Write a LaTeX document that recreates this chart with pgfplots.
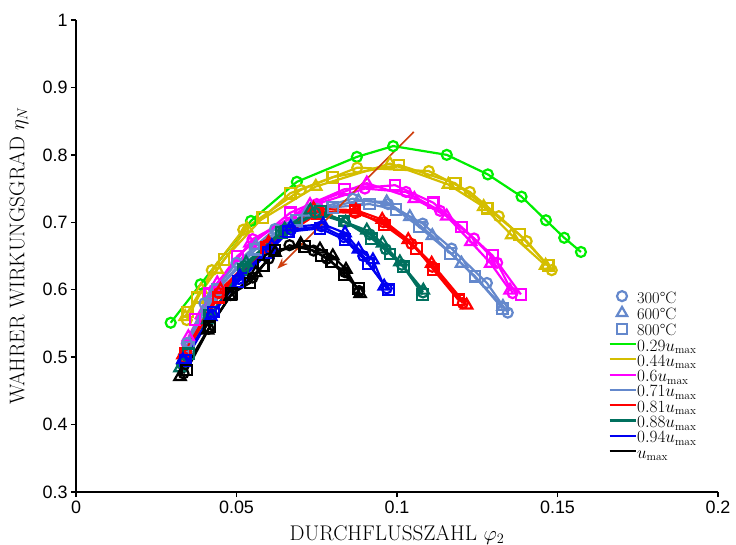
\documentclass[border=0pt]{standalone}
\usepackage{pgfplots}
\pgfplotsset{compat=1.18}
\usepackage{fontspec}
\newfontfamily\arialf{Liberation Sans}
\usetikzlibrary{arrows.meta}
\definecolor{cgreen}{RGB}{0,238,0}
\definecolor{cyellow}{RGB}{212,190,0}
\definecolor{cmag}{RGB}{255,0,255}
\definecolor{csteel}{RGB}{100,136,204}
\definecolor{cred}{RGB}{255,0,0}
\definecolor{cteal}{RGB}{0,112,94}
\definecolor{cblue}{RGB}{0,0,240}
\definecolor{carrow}{RGB}{206,62,14}
\pgfplotsset{
  ser/.style={line width=2.2bp, forget plot, mark options={fill=white, solid}},
  C/.style={ser, mark=o, mark size=5bp},
  T/.style={ser, mark=triangle, mark size=6.5bp},
  S/.style={ser, mark=square, mark size=5.3bp},
  mleg/.style={legend image code/.code={\draw[##1] plot coordinates {(12.5bp,3bp)};}},
  lleg/.style={legend image code/.code={\draw[##1] (0bp,3bp) -- (26bp,3bp);}},
}
\begin{document}
\begin{tikzpicture}
\path[use as bounding box] (-76bp,-53bp) rectangle (660bp,492bp);
\begin{axis}[
  at={(0,0)}, anchor=south west,
  scale only axis, width=642bp, height=472bp,
  xmin=0, xmax=0.2, ymin=0.3, ymax=1,
  xtick={0,0.05,0.1,0.15,0.2},
  ytick={0.3,0.4,0.5,0.6,0.7,0.8,0.9,1},
  scaled x ticks=false, scaled y ticks=false,
  /pgf/number format/.cd, fixed, precision=2, assume math mode=true, /pgfplots/.cd,
  axis x line*=bottom, axis y line*=left,
  axis line style={line width=1.6bp},
  tick style={line width=1.4bp, black},
  tick align=outside, major tick length=5bp,
  ticklabel style={font=\fontsize{18}{20}\selectfont\arialf},
  xlabel={DURCHFLUSSZAHL $\varphi_2$},
  ylabel={WAHRER WIRKUNGSGRAD $\eta_N$},
  label style={font=\fontsize{21.3}{25}\selectfont},
  xlabel style={at={(axis description cs:0.5,-0.091)}, anchor=center},
  ylabel style={at={(axis description cs:-0.089,0.5)}, anchor=center},
  legend style={draw=none, fill=none, at={(rel axis cs:0.829,0.426)}, anchor=north west,
    font=\fontsize{16.5}{18}\selectfont, row sep=0.3bp, inner sep=0pt,
    nodes={inner sep=0.5bp, text height=11bp, text depth=3bp, font=\fontsize{16.5}{18}\selectfont}},
  legend cell align=left,
  clip=false,
]
% green 0.29 umax (300C)
\addplot[C, cgreen] coordinates {(0.0295,0.551) (0.0388,0.608) (0.0545,0.702) (0.0688,0.760) (0.0875,0.797) (0.0988,0.813) (0.1155,0.800) (0.1283,0.771) (0.1388,0.738) (0.1464,0.703) (0.1521,0.677) (0.1573,0.656)};
% yellow 0.44 umax
\addplot[C, cyellow] coordinates {(0.0345,0.555) (0.0423,0.629) (0.0521,0.689) (0.0700,0.748) (0.0876,0.781) (0.1099,0.776) (0.1227,0.745) (0.1317,0.709) (0.1404,0.672) (0.1482,0.629)};
\addplot[T, cyellow] coordinates {(0.0340,0.560) (0.0390,0.600) (0.0440,0.630) (0.0532,0.691) (0.0747,0.753) (0.0978,0.787) (0.1160,0.756) (0.1270,0.723) (0.1357,0.681) (0.1463,0.636)};
\addplot[S, cyellow] coordinates {(0.0348,0.567) (0.0379,0.589) (0.0461,0.645) (0.0582,0.707) (0.0667,0.743) (0.0800,0.767) (0.1006,0.785) (0.1181,0.758) (0.1281,0.721) (0.1381,0.682) (0.1471,0.636)};
% magenta 0.6 umax
\addplot[C, cmag] coordinates {(0.0345,0.520) (0.0430,0.600) (0.0550,0.675) (0.0750,0.727) (0.0900,0.750) (0.1028,0.745) (0.1134,0.717) (0.1240,0.676) (0.1312,0.640) (0.1360,0.595)};
\addplot[T, cmag] coordinates {(0.0350,0.530) (0.0440,0.610) (0.0542,0.669) (0.0729,0.726) (0.0906,0.758) (0.1054,0.735) (0.1155,0.709) (0.1230,0.671) (0.1292,0.639) (0.1352,0.599)};
\addplot[S, cmag] coordinates {(0.0371,0.556) (0.0417,0.594) (0.0503,0.650) (0.0667,0.714) (0.0836,0.749) (0.0994,0.755) (0.1113,0.729) (0.1201,0.693) (0.1297,0.651) (0.1386,0.593)};
% steel 0.71 umax
\addplot[C, csteel] coordinates {(0.0346,0.521) (0.0400,0.580) (0.0500,0.640) (0.0620,0.690) (0.0750,0.720) (0.0862,0.735) (0.0972,0.727) (0.1080,0.698) (0.1170,0.661) (0.1280,0.610) (0.1345,0.566)};
\addplot[T, csteel] coordinates {(0.0340,0.510) (0.0420,0.590) (0.0560,0.665) (0.0720,0.715) (0.0880,0.732) (0.0968,0.730) (0.1040,0.708) (0.1110,0.680) (0.1201,0.639) (0.1330,0.575)};
\addplot[S, csteel] coordinates {(0.0350,0.515) (0.0440,0.600) (0.0560,0.660) (0.0688,0.703) (0.0800,0.722) (0.0914,0.727) (0.0997,0.719) (0.1070,0.693) (0.1167,0.654) (0.1243,0.620) (0.1329,0.572)};
% red 0.81 umax
\addplot[C, cred] coordinates {(0.0335,0.500) (0.0445,0.595) (0.0597,0.667) (0.0750,0.716) (0.0870,0.714) (0.0958,0.700) (0.1045,0.668) (0.1110,0.634) (0.1205,0.580)};
\addplot[T, cred] coordinates {(0.0333,0.503) (0.0450,0.600) (0.0600,0.670) (0.0740,0.720) (0.0872,0.718) (0.0954,0.704) (0.1035,0.674) (0.1108,0.639) (0.1217,0.577)};
\addplot[S, cred] coordinates {(0.0340,0.505) (0.0443,0.589) (0.0594,0.663) (0.0753,0.713) (0.0869,0.717) (0.0960,0.696) (0.1061,0.661) (0.1113,0.630) (0.1191,0.585)};
% teal 0.88 umax
\addplot[C, cteal] coordinates {(0.0330,0.490) (0.0415,0.558) (0.0525,0.635) (0.0645,0.688) (0.0745,0.714) (0.0838,0.700) (0.0915,0.682) (0.0965,0.660) (0.1015,0.637) (0.1081,0.596)};
\addplot[T, cteal] coordinates {(0.0324,0.484) (0.0410,0.555) (0.0530,0.640) (0.0650,0.690) (0.0730,0.718) (0.0840,0.700) (0.0906,0.688) (0.0955,0.669) (0.1009,0.641) (0.1082,0.599)};
\addplot[S, cteal] coordinates {(0.0350,0.505) (0.0417,0.562) (0.0520,0.630) (0.0640,0.685) (0.0762,0.716) (0.0835,0.702) (0.0921,0.676) (0.0978,0.653) (0.1020,0.634) (0.1080,0.593)};
% blue 0.94 umax
\addplot[C, cblue] coordinates {(0.0336,0.494) (0.0424,0.563) (0.0508,0.616) (0.0605,0.660) (0.0670,0.689) (0.0765,0.694) (0.0834,0.678) (0.0895,0.650) (0.0968,0.602)};
\addplot[T, cblue] coordinates {(0.0333,0.496) (0.0420,0.560) (0.0510,0.620) (0.0610,0.665) (0.0669,0.693) (0.0770,0.697) (0.0838,0.684) (0.0880,0.660) (0.0925,0.644) (0.0960,0.605)};
\addplot[S, cblue] coordinates {(0.0340,0.495) (0.0428,0.567) (0.0506,0.612) (0.0600,0.655) (0.0661,0.686) (0.0760,0.691) (0.0838,0.674) (0.0910,0.639) (0.0973,0.600)};
% black umax
\addplot[C, black] coordinates {(0.0335,0.476) (0.0413,0.542) (0.0482,0.592) (0.0550,0.618) (0.0600,0.646) (0.0665,0.666) (0.0740,0.658) (0.0782,0.646) (0.0838,0.626) (0.0882,0.598)};
\addplot[T, black] coordinates {(0.0324,0.471) (0.0410,0.540) (0.0480,0.590) (0.0560,0.625) (0.0620,0.655) (0.0700,0.668) (0.0760,0.660) (0.0800,0.650) (0.0841,0.630) (0.0885,0.594)};
\addplot[S, black] coordinates {(0.0345,0.481) (0.0417,0.545) (0.0485,0.594) (0.0542,0.610) (0.0583,0.636) (0.0620,0.659) (0.0713,0.664) (0.0765,0.651) (0.0797,0.641) (0.0835,0.622) (0.0880,0.602)};
% arrow
\addplot[forget plot, carrow, line width=1.6bp, -{Stealth[length=11bp,width=8bp]}] coordinates {(0.1052,0.834) (0.0627,0.631)};
% legend
\addlegendimage{mleg, only marks, mark=o, csteel, mark size=5bp, line width=2.2bp, mark options={fill=white}}
\addlegendentry{300\textdegree C}
\addlegendimage{mleg, only marks, mark=triangle, csteel, mark size=6bp, line width=2.2bp, mark options={fill=white}}
\addlegendentry{600\textdegree C}
\addlegendimage{mleg, only marks, mark=square, csteel, mark size=5bp, line width=2.2bp, mark options={fill=white}}
\addlegendentry{800\textdegree C}
\addlegendimage{lleg, cgreen, line width=2.2bp}
\addlegendentry{$0.29u_{\mathrm{max}}$}
\addlegendimage{lleg, cyellow, line width=2.2bp}
\addlegendentry{$0.44u_{\mathrm{max}}$}
\addlegendimage{lleg, cmag, line width=2.2bp}
\addlegendentry{$0.6u_{\mathrm{max}}$}
\addlegendimage{lleg, csteel, line width=2.2bp}
\addlegendentry{$0.71u_{\mathrm{max}}$}
\addlegendimage{lleg, cred, line width=2.2bp}
\addlegendentry{$0.81u_{\mathrm{max}}$}
\addlegendimage{lleg, cteal, line width=2.2bp}
\addlegendentry{$0.88u_{\mathrm{max}}$}
\addlegendimage{lleg, cblue, line width=2.2bp}
\addlegendentry{$0.94u_{\mathrm{max}}$}
\addlegendimage{lleg, black, line width=2.2bp}
\addlegendentry{$u_{\mathrm{max}}$}
\end{axis}
\end{tikzpicture}
\end{document}
